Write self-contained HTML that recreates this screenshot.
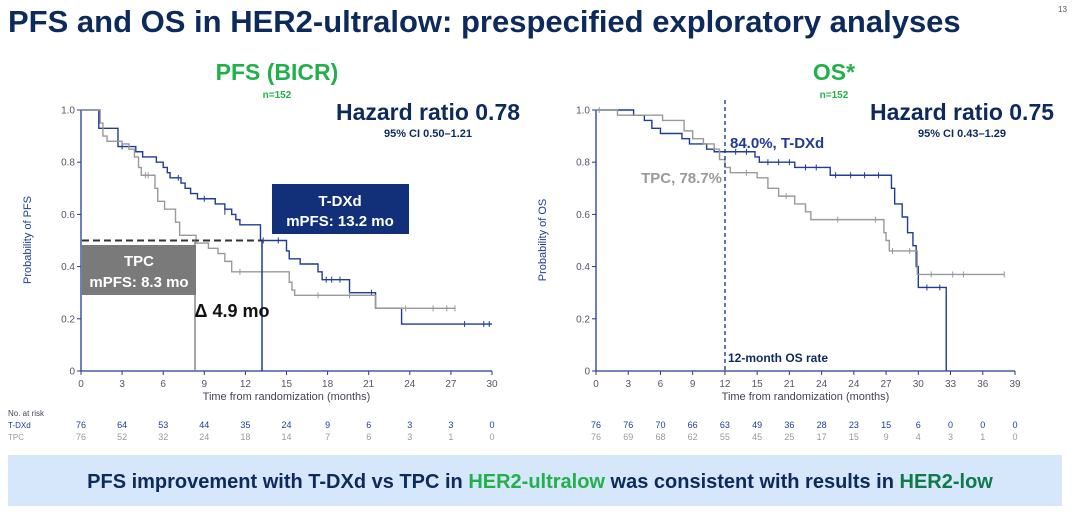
<!DOCTYPE html>
<html><head><meta charset="utf-8"><style>
body{margin:0;width:1080px;height:512px;background:#fff;overflow:hidden;font-family:"Liberation Sans",sans-serif;}
svg{position:absolute;left:0;top:0}
</style></head><body>
<svg id="s" width="1080" height="512" xmlns="http://www.w3.org/2000/svg" font-family="Liberation Sans, sans-serif">
<text x="8" y="32" font-size="31" font-weight="bold" fill="#0d2a5c">PFS and OS in HER2-ultralow: prespecified exploratory analyses</text>
<text x="1058" y="12" font-size="8" fill="#555">13</text>
<text x="277" y="80" font-size="23" font-weight="bold" fill="#22b04b" text-anchor="middle">PFS (BICR)</text>
<text x="277" y="98" font-size="10" font-weight="bold" fill="#22b04b" text-anchor="middle">n=152</text>
<text x="834" y="80" font-size="23" font-weight="bold" fill="#22b04b" text-anchor="middle">OS*</text>
<text x="834" y="98" font-size="10" font-weight="bold" fill="#22b04b" text-anchor="middle">n=152</text>
<text x="428" y="120" font-size="23" font-weight="bold" fill="#0d2a5c" text-anchor="middle">Hazard ratio 0.78</text>
<text x="428" y="137" font-size="11" font-weight="bold" fill="#0d2a5c" text-anchor="middle">95% CI 0.50–1.21</text>
<text x="962" y="120" font-size="23" font-weight="bold" fill="#0d2a5c" text-anchor="middle">Hazard ratio 0.75</text>
<text x="962" y="137" font-size="11" font-weight="bold" fill="#0d2a5c" text-anchor="middle">95% CI 0.43–1.29</text>
<g id="g"></g>
<rect x="8" y="455" width="1054" height="51" fill="#d6e6fb"/>
<text x="540" y="488" font-size="20" font-weight="bold" fill="#0d2a5c" text-anchor="middle">PFS improvement with T-DXd vs TPC in <tspan fill="#22b04b">HER2-ultralow</tspan> was consistent with results in <tspan fill="#0e7a4a">HER2-low</tspan></text>
</svg>
<script>
var g=document.getElementById('g'),h='';
var B='#1f3c96',G='#999';
function Y(p){return 371-261*p}
function chart(x0,x1,max,labels,ylab){
 var sx=(x1-x0)/max;
 h+='<line x1="'+x0+'" y1="110" x2="'+x0+'" y2="371" stroke="'+B+'" stroke-width="1.3"/>';
 h+='<line x1="'+x0+'" y1="371" x2="'+x1+'" y2="371" stroke="'+B+'" stroke-width="1.3"/>';
 [0,0.2,0.4,0.6,0.8,1].forEach(function(p){h+='<line x1="'+(x0-4)+'" y1="'+Y(p)+'" x2="'+x0+'" y2="'+Y(p)+'" stroke="'+B+'"/><text x="'+(x0-6)+'" y="'+(Y(p)+3.5)+'" font-size="10" fill="#556" text-anchor="end">'+(p==0?'0':p.toFixed(1))+'</text>';});
 labels.forEach(function(l,i){var x=x0+i*3*sx;h+='<line x1="'+x+'" y1="371" x2="'+x+'" y2="375" stroke="'+B+'"/><text x="'+x+'" y="387" font-size="10" fill="#556" text-anchor="middle">'+l+'</text>';});
 h+='<text x="'+((x0+x1)/2)+'" y="400" font-size="11" fill="#445" text-anchor="middle">Time from randomization (months)</text>';
 h+='<text transform="translate('+(x0-50)+',240) rotate(-90)" font-size="11" fill="#1f3c96" text-anchor="middle">'+ylab+'</text>';
 return sx;
}
function curve(x0,sx,pts,col,cens){
 var d='M'+x0+','+Y(1);
 pts.forEach(function(q){var x=x0+q[0]*sx;d+='H'+x+'V'+Y(q[1]);});
 var last=pts[pts.length-1];
 h+='<path d="'+d+'H'+(x0+last[2]*sx)+'" fill="none" stroke="'+col+'" stroke-width="1.4"/>';
 (cens||[]).forEach(function(c){var x=x0+c[0]*sx,y=Y(c[1]);h+='<line x1="'+x+'" y1="'+(y-3)+'" x2="'+x+'" y2="'+(y+3)+'" stroke="'+col+'"/>';});
}
var sx=chart(81,492,30,[0,3,6,9,12,15,18,21,24,27,30],'Probability of PFS');
curve(81,sx,[[1.3,1],[1.3,0.93],[2.7,0.86],[4,0.84],[4.5,0.82],[5.5,0.8],[6,0.78],[6.3,0.76],[6.5,0.74],[7.3,0.72],[7.6,0.7],[8,0.68],[8.5,0.66],[9.8,0.64],[10.5,0.62],[11,0.6],[11.3,0.58],[11.6,0.56],[13.1,0.5],[15,0.46],[15.2,0.43],[16,0.41],[17.3,0.38],[17.6,0.35],[19.6,0.3],[21.5,0.24],[23.4,0.18,30]],B,[[3,0.86],[7.1,0.74],[9,0.66],[10.5,0.61],[13.3,0.5],[14.4,0.5],[17.9,0.35],[18.3,0.35],[18.9,0.35],[21.2,0.3],[28,0.18],[29.4,0.18],[29.8,0.18]]);
curve(81,sx,[[1.4,0.95],[1.6,0.9],[1.9,0.88],[3,0.87],[3.5,0.85],[3.9,0.82],[4.2,0.78],[4.4,0.75],[5.4,0.7],[5.6,0.65],[6.1,0.62],[6.9,0.57],[7.2,0.52],[8.4,0.49],[9.3,0.47],[10,0.45],[10.5,0.42],[11,0.38],[15.2,0.34],[15.4,0.31],[15.6,0.29],[21.5,0.24,27.3]],G,[[4.7,0.75],[4.9,0.75],[11.6,0.38],[17.3,0.29],[19.6,0.29],[23.7,0.24],[25.7,0.24],[26.7,0.24],[27.3,0.24]]);
h+='<line x1="82" y1="'+Y(0.5)+'" x2="263" y2="'+Y(0.5)+'" stroke="#333" stroke-width="2" stroke-dasharray="7,4"/>';
h+='<line x1="195" y1="'+Y(0.5)+'" x2="195" y2="371" stroke="#888" stroke-width="1.5"/>';
h+='<line x1="262" y1="'+Y(0.5)+'" x2="262" y2="371" stroke="#1f3c96" stroke-width="1.5"/>';
h+='<rect x="82" y="245" width="114" height="50" fill="#7a7a7a"/><text x="139" y="266" font-size="15" font-weight="bold" fill="#fff" text-anchor="middle">TPC</text><text x="139" y="287" font-size="15" font-weight="bold" fill="#fff" text-anchor="middle">mPFS: 8.3 mo</text>';
h+='<rect x="272" y="184" width="137" height="50" fill="#12307a"/><text x="340" y="206" font-size="15" font-weight="bold" fill="#fff" text-anchor="middle">T-DXd</text><text x="340" y="226" font-size="15" font-weight="bold" fill="#fff" text-anchor="middle">mPFS: 13.2 mo</text>';
h+='<text x="232" y="317" font-size="18" font-weight="bold" fill="#111" text-anchor="middle">Δ 4.9 mo</text>';
h+='<text x="8" y="416" font-size="8" fill="#445">No. at risk</text><text x="8" y="428" font-size="8" fill="#1f3c96">T-DXd</text><text x="8" y="440" font-size="8" fill="#999">TPC</text>';
var a=[76,64,53,44,35,24,9,6,3,3,0],b=[76,52,32,24,18,14,7,6,3,1,0];
a.forEach(function(v,i){var x=81+i*3*sx;h+='<text x="'+x+'" y="428" font-size="9" fill="#1f3c96" text-anchor="middle">'+v+'</text><text x="'+x+'" y="440" font-size="9" fill="#999" text-anchor="middle">'+b[i]+'</text>';});
var s2=chart(596,1015,39,[0,3,6,9,12,15,21,24,24,27,30,33,36,39],'Probability of OS');
curve(596,s2,[[3.5,0.98],[4.5,0.96],[5.2,0.93],[6,0.91],[8,0.89],[8.7,0.87],[10.3,0.85],[11,0.84],[14.8,0.82],[15.2,0.8],[18.5,0.78],[21.8,0.75],[27.5,0.7],[27.8,0.64],[28.5,0.59],[29,0.53],[29.5,0.48],[29.8,0.4],[30,0.32],[32.6,0,32.6]],B,[[13,0.84],[14,0.84],[16,0.8],[17,0.8],[18,0.8],[19.5,0.78],[20.5,0.78],[22.3,0.75],[23.7,0.75],[25,0.75],[26.3,0.75],[30.8,0.32],[32,0.32]]);
curve(596,s2,[[2,0.98],[6.2,0.96],[8.2,0.92],[9,0.89],[10,0.87],[11,0.85],[11.5,0.81],[12,0.78],[12.5,0.76],[15,0.74],[16,0.7],[17,0.67],[18.5,0.64],[19.5,0.61],[20,0.58],[26.8,0.53],[27,0.5],[27.3,0.46],[29.9,0.37,38]],G,[[0.3,1],[14,0.76],[17.7,0.67],[22.5,0.58],[26,0.58],[27.6,0.46],[29.2,0.46],[31.2,0.37],[33.2,0.37],[34.2,0.37],[38,0.37]]);
h+='<line x1="725" y1="100" x2="725" y2="371" stroke="#12307a" stroke-width="1.3" stroke-dasharray="4,3"/>';
h+='<text x="730" y="148" font-size="15" font-weight="bold" fill="#1f3c96">84.0%, T-DXd</text>';
h+='<text x="722" y="183" font-size="15" font-weight="bold" fill="#999" text-anchor="end">TPC, 78.7%</text>';
h+='<text x="728" y="362" font-size="12" font-weight="bold" fill="#0d2a5c">12-month OS rate</text>';
var c=[76,76,70,66,63,49,36,28,23,15,6,0,0,0],d=[76,69,68,62,55,45,25,17,15,9,4,3,1,0];
c.forEach(function(v,i){var x=596+i*3*s2;h+='<text x="'+x+'" y="428" font-size="9" fill="#1f3c96" text-anchor="middle">'+v+'</text><text x="'+x+'" y="440" font-size="9" fill="#999" text-anchor="middle">'+d[i]+'</text>';});
g.innerHTML=h;
</script>
</body></html>
